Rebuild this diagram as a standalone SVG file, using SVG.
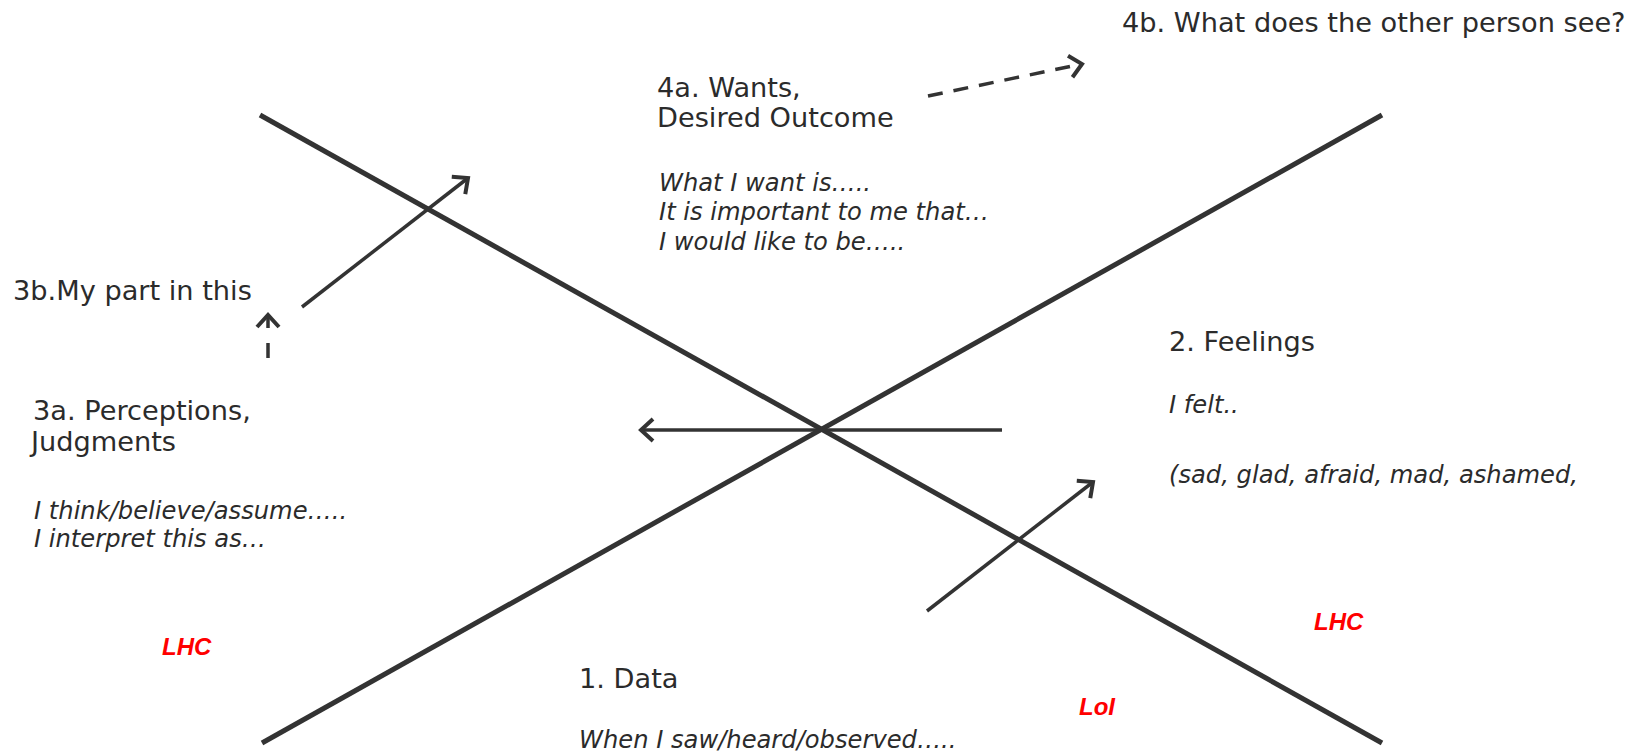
<svg xmlns="http://www.w3.org/2000/svg" width="1637" height="754" viewBox="0 0 1637 754">
<style>
.h{font-family:"DejaVu Sans",Verdana,sans-serif;font-size:27.2px;fill:#2b2b2b}
.i{font-family:"DejaVu Sans",Verdana,sans-serif;font-size:24.2px;font-style:italic;fill:#2b2b2b}
.r{font-family:"Liberation Sans",Arial,sans-serif;font-size:24px;font-style:italic;font-weight:bold;fill:#ff0000}
.main{stroke:#333;stroke-width:5;fill:none}
.c{stroke:#333;stroke-width:3.5;fill:none}
</style>
<defs>
<marker id="ah" viewBox="-16 -14 20 28" refX="0" refY="0" markerWidth="20" markerHeight="28" markerUnits="userSpaceOnUse" orient="auto">
<path d="M-12,-11 L0,0 L-12,11" fill="none" stroke="#333" stroke-width="4" stroke-dasharray="none" stroke-linecap="butt" stroke-linejoin="miter"/>
</marker>
</defs>
<g id="axes">
<line class="main" x1="260" y1="115" x2="1382" y2="743"/>
<line class="main" x1="262" y1="743" x2="1382" y2="115"/>
</g>
<g id="connectors">
<line class="c" x1="302" y1="307" x2="468" y2="178" marker-end="url(#ah)"/>
<line class="c" x1="268" y1="358" x2="268" y2="315" stroke-width="4" stroke-dasharray="15 15" marker-end="url(#ah)"/>
<line class="c" x1="1002" y1="430" x2="641" y2="430" stroke-width="4" marker-end="url(#ah)"/>
<line class="c" x1="927" y1="611" x2="1093" y2="482" marker-end="url(#ah)"/>
<line class="c" x1="928" y1="96" x2="1082" y2="64" stroke-width="4" stroke-dasharray="15 11" marker-end="url(#ah)"/>
</g>
<g id="node-4b"><text class="h" x="1122" y="32">4b. What does the other person see?</text></g>
<g id="node-4a">
<text class="h" x="657" y="97">4a. Wants,</text>
<text class="h" x="657" y="127">Desired Outcome</text>
<text class="i" x="659" y="191">What I want is…..</text>
<text class="i" x="659" y="220">It is important to me that…</text>
<text class="i" x="659" y="250">I would like to be…..</text>
</g>
<g id="node-3b"><text class="h" x="13" y="300">3b.My part in this</text></g>
<g id="node-3a">
<text class="h" x="33" y="420">3a. Perceptions,</text>
<text class="h" x="31" y="451">Judgments</text>
<text class="i" x="34" y="519">I think/believe/assume…..</text>
<text class="i" x="34" y="547">I interpret this as…</text>
</g>
<g id="node-2">
<text class="h" x="1169" y="351">2. Feelings</text>
<text class="i" x="1169" y="413">I felt..</text>
<text class="i" x="1169" y="483">(sad, glad, afraid, mad, ashamed,</text>
</g>
<g id="node-1">
<text class="h" x="579" y="688">1. Data</text>
<text class="i" x="579" y="748">When I saw/heard/observed…..</text>
</g>
<g id="labels">
<text class="r" x="162" y="655">LHC</text>
<text class="r" x="1314" y="630">LHC</text>
<text class="r" x="1079" y="715">LoI</text>
</g>
</svg>
